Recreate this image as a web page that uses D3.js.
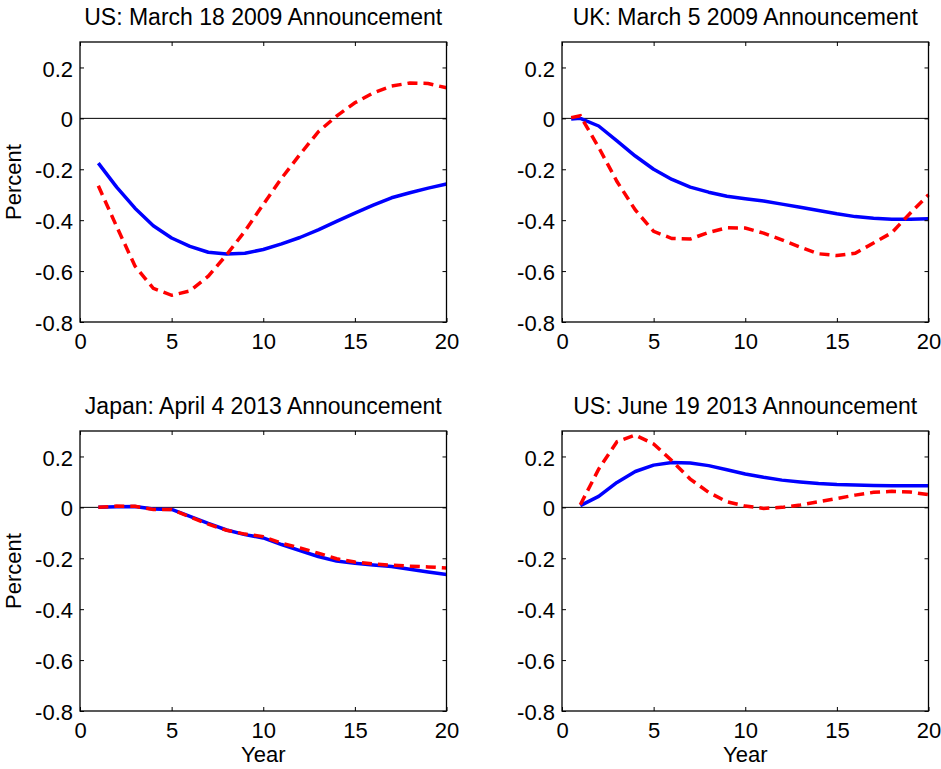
<!DOCTYPE html>
<html>
<head>
<meta charset="utf-8">
<script src="https://cdn.jsdelivr.net/npm/d3@7"></script>
<style>
  html, body { margin: 0; padding: 0; background: #fff; }
  svg text { font-family: "Liberation Sans", Arial, Helvetica, sans-serif; fill: #000; }
</style>
</head>
<body>
<svg id="chart" width="941" height="769"></svg>
<script>
// Horizon (years) and tick labels
const years = [1, 2, 3, 4, 5, 6, 7, 8, 9, 10, 11, 12, 13, 14, 15, 16, 17, 18, 19, 20];
const ukYears = [0.5, 1, 2, 3, 4, 5, 6, 7, 8, 9, 10, 11, 12, 13, 14, 15, 16, 17, 18, 19, 20];
const xTicks = [0, 5, 10, 15, 20];
const xTickLabels = ["0", "5", "10", "15", "20"];
const yTicks = [-0.8, -0.6, -0.4, -0.2, 0, 0.2];
const yTickLabels = ["-0.8", "-0.6", "-0.4", "-0.2", "0", "0.2"];

const titles = [
  "US: March 18 2009 Announcement",
  "UK: March 5 2009 Announcement",
  "Japan: April 4 2013 Announcement",
  "US: June 19 2013 Announcement"
];

// Percent changes by maturity: solid (blue) and dashed (red) curves
const us2009Solid  = [-0.176, -0.27, -0.353, -0.422, -0.47, -0.503, -0.526, -0.533, -0.53, -0.515, -0.493, -0.468, -0.438, -0.405, -0.372, -0.341, -0.312, -0.292, -0.274, -0.258];
const us2009Dashed = [-0.265, -0.425, -0.58, -0.668, -0.695, -0.678, -0.62, -0.536, -0.443, -0.338, -0.235, -0.142, -0.053, 0.009, 0.061, 0.1, 0.127, 0.139, 0.137, 0.12];

const uk2009Solid  = [-0.003, 0.0, -0.03, -0.088, -0.148, -0.2, -0.24, -0.27, -0.29, -0.306, -0.316, -0.325, -0.337, -0.349, -0.362, -0.375, -0.386, -0.392, -0.396, -0.396, -0.394];
const uk2009Dashed = [0.003, 0.01, -0.114, -0.248, -0.36, -0.444, -0.472, -0.474, -0.448, -0.43, -0.431, -0.451, -0.477, -0.506, -0.532, -0.539, -0.53, -0.49, -0.449, -0.373, -0.30];

const japan2013Solid  = [0, 0.002, 0.003, -0.006, -0.008, -0.035, -0.063, -0.089, -0.107, -0.12, -0.146, -0.17, -0.193, -0.211, -0.22, -0.226, -0.232, -0.243, -0.254, -0.264];
const japan2013Dashed = [0, 0.005, 0.004, -0.008, -0.008, -0.037, -0.066, -0.09, -0.105, -0.115, -0.141, -0.159, -0.18, -0.202, -0.215, -0.222, -0.227, -0.231, -0.234, -0.238];

const us2013Solid  = [0.007, 0.043, 0.098, 0.141, 0.166, 0.176, 0.174, 0.164, 0.148, 0.131, 0.118, 0.107, 0.1, 0.094, 0.09, 0.088, 0.086, 0.085, 0.085, 0.085];
const us2013Dashed = [0.01, 0.15, 0.258, 0.284, 0.249, 0.183, 0.111, 0.059, 0.022, 0.005, -0.004, 0.0, 0.009, 0.022, 0.035, 0.048, 0.059, 0.063, 0.06, 0.05];

const panels = [
  { title: titles[0], x: years,   solid: us2009Solid,    dashed: us2009Dashed,    left: 80,  top: 42,  yLabel: true,  xLabel: false },
  { title: titles[1], x: ukYears, solid: uk2009Solid,    dashed: uk2009Dashed,    left: 562, top: 42,  yLabel: false, xLabel: false },
  { title: titles[2], x: years,   solid: japan2013Solid, dashed: japan2013Dashed, left: 80,  top: 431, yLabel: true,  xLabel: true },
  { title: titles[3], x: years,   solid: us2013Solid,    dashed: us2013Dashed,    left: 562, top: 431, yLabel: false, xLabel: true }
];

const W = 366.5, H = 280;
const FONT = 22;
const TITLE_FONT = 23;
const svg = d3.select("#chart");

panels.forEach(p => {
  const g = svg.append("g").attr("transform", `translate(${p.left},${p.top})`);
  const x = d3.scaleLinear().domain([0, 20]).range([0, W]);
  const y = d3.scaleLinear().domain([-0.8, 0.3]).range([H, 0]);

  // zero reference line
  g.append("line")
    .attr("x1", x(0)).attr("x2", x(20))
    .attr("y1", y(0)).attr("y2", y(0))
    .attr("stroke", "#000").attr("stroke-width", 1);

  const line = d3.line().x(d => x(d[0])).y(d => y(d[1]));
  const solidPts = p.x.map((v, i) => [v, p.solid[i]]);
  const dashedPts = p.x.map((v, i) => [v, p.dashed[i]]);

  g.append("path").datum(solidPts)
    .attr("d", line).attr("fill", "none")
    .attr("stroke", "#0000ff").attr("stroke-width", 3.5)
    .attr("stroke-linejoin", "round");

  g.append("path").datum(dashedPts)
    .attr("d", line).attr("fill", "none")
    .attr("stroke", "#ff0000").attr("stroke-width", 3.5)
    .attr("stroke-dasharray", "10,6");

  // axes with inward ticks on all four sides
  const fmtY = d => yTickLabels[yTicks.indexOf(d)];
  const fmtX = d => xTickLabels[xTicks.indexOf(d)];

  const left = g.append("g")
    .call(d3.axisLeft(y).tickValues(yTicks).tickFormat(fmtY).tickSizeInner(-4).tickSizeOuter(0).tickPadding(7));
  left.selectAll("text").attr("dy", "0.39em");

  g.append("g").attr("transform", `translate(${W},0)`)
    .call(d3.axisRight(y).tickValues(yTicks).tickFormat("").tickSizeInner(-4).tickSizeOuter(0));

  g.append("g").attr("transform", `translate(0,${H})`)
    .call(d3.axisBottom(x).tickValues(xTicks).tickFormat(fmtX).tickSizeInner(-4).tickSizeOuter(0).tickPadding(11));

  g.append("g")
    .call(d3.axisTop(x).tickValues(xTicks).tickFormat("").tickSizeInner(-4).tickSizeOuter(0));

  g.selectAll(".domain").remove();
  g.selectAll(".tick line").attr("stroke", "#000");
  g.selectAll(".tick text").attr("font-size", FONT).attr("font-family", null);

  // frame
  g.append("rect")
    .attr("x", 0).attr("y", 0).attr("width", W).attr("height", H)
    .attr("fill", "none").attr("stroke", "#000").attr("stroke-width", 1.3);

  g.append("text")
    .attr("x", W / 2).attr("y", -17)
    .attr("text-anchor", "middle")
    .attr("font-size", TITLE_FONT)
    .text(p.title);

  if (p.yLabel) {
    g.append("text")
      .attr("transform", `translate(${21 - p.left},${H / 2}) rotate(-90)`)
      .attr("text-anchor", "middle")
      .attr("font-size", FONT)
      .text("Percent");
  }
  if (p.xLabel) {
    g.append("text")
      .attr("x", W / 2).attr("y", H + 51)
      .attr("text-anchor", "middle")
      .attr("font-size", FONT)
      .text("Year");
  }
});
</script>
</body>
</html>
